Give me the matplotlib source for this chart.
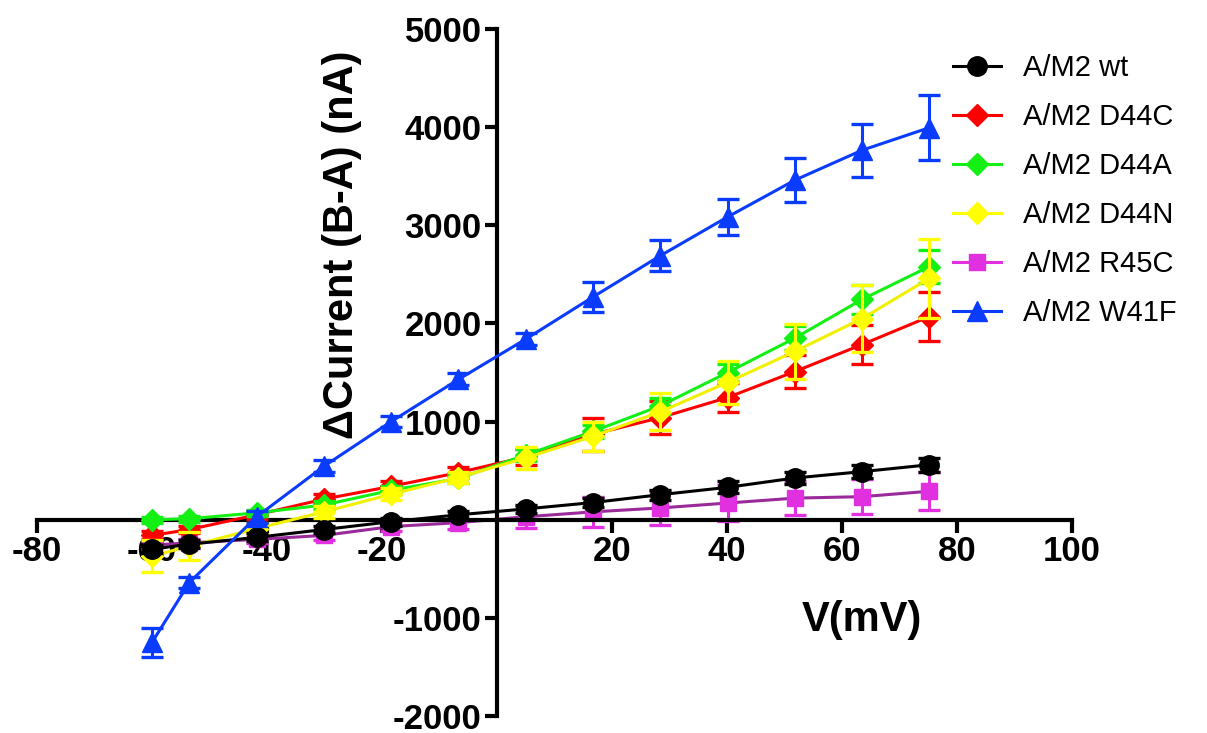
import matplotlib
matplotlib.use("Agg")
import matplotlib.pyplot as plt

plt.rcParams['font.family'] = ['Liberation Sans', 'DejaVu Sans']
plt.rcParams['axes.unicode_minus'] = False

# voltage steps (mV)
V = [-60, -53.5, -41.8, -30.1, -18.4, -6.7, 5.0, 16.7, 28.4, 40.1, 51.8, 63.5, 75.2]

wt = [-300, -250, -180, -100, -20, 50, 110, 175, 255, 330, 425, 490, 560]
wt_err = [40, 40, 40, 40, 40, 40, 40, 50, 50, 60, 60, 70, 70]
d44c = [-160, -100, 50, 210, 340, 480, 640, 870, 1040, 1245, 1510, 1785, 2070]
d44c_err = [40, 40, 40, 50, 50, 60, 80, 170, 170, 150, 170, 200, 250]
d44a = [0, 10, 70, 150, 300, 420, 660, 900, 1160, 1500, 1850, 2245, 2580]
d44a_err = [30, 30, 30, 40, 40, 50, 60, 70, 80, 90, 120, 150, 170]
d44n = [-370, -270, -90, 80, 260, 430, 630, 850, 1100, 1400, 1715, 2050, 2460]
d44n_err = [160, 140, 60, 60, 60, 60, 110, 150, 190, 220, 280, 340, 400]
r45c = [-260, -235, -200, -160, -70, -30, 30, 80, 120, 170, 220, 235, 290]
r45c_err = [40, 40, 40, 50, 50, 60, 110, 150, 170, 180, 170, 180, 195]
w41f = [-1250, -640, 30, 545, 1000, 1430, 1840, 2270, 2690, 3085, 3460, 3765, 3995]
w41f_err = [150, 60, 60, 60, 60, 60, 60, 150, 160, 185, 225, 270, 330]

labels = ["A/M2 wt", "A/M2 D44C", "A/M2 D44A", "A/M2 D44N", "A/M2 R45C", "A/M2 W41F"]

fig = plt.figure(figsize=(12.07, 7.33), dpi=100)
ax = fig.add_axes([37/1207, 1-716/733, (1072-37)/1207, (716-29)/733])

# (y, err, color, linecolor, marker, ms, zorder)
series = [
    (wt, wt_err, "#000000", "#000000", "o", 14, 6),
    (d44c, d44c_err, "#ff0000", "#ff0000", "D", 11, 3),
    (d44a, d44a_err, "#14f014", "#14f014", "D", 11, 4),
    (d44n, d44n_err, "#ffff00", "#f0f000", "D", 11, 5),
    (r45c, r45c_err, "#e030e0", "#9a2a9a", "s", 12, 2),
    (w41f, w41f_err, "#0a3cff", "#0a3cff", "^", 14, 7),
]

handles = []
for (y, e, c, lc, m, ms, z), lab in zip(series, labels):
    ax.errorbar(V, y, yerr=e, fmt="none", ecolor=c, elinewidth=2.2,
                capsize=8, capthick=2.4, zorder=z)
    ax.plot(V, y, color=lc, lw=2.2, zorder=z)
    ax.plot(V, y, ls="none", marker=m, ms=ms, mfc=c, mec=c, zorder=z)
    h, = ax.plot([], [], color=c, lw=2.2, marker=m, ms=ms, mfc=c, mec=c, label=lab)
    handles.append(h)

ax.set_xlim(-80, 100)
ax.set_ylim(-2000, 5000)
ax.spines['left'].set_position(('data', 0))
ax.spines['bottom'].set_position(('data', 0))
ax.spines['top'].set_visible(False)
ax.spines['right'].set_visible(False)
for s in ['left', 'bottom']:
    ax.spines[s].set_linewidth(3)

ax.set_xticks([-80, -60, -40, -20, 20, 40, 60, 80, 100])
ax.set_yticks([-2000, -1000, 1000, 2000, 3000, 4000, 5000])
ax.tick_params(direction='out', length=9, width=3, labelsize=25, pad=2)
for t in ax.get_xticklabels() + ax.get_yticklabels():
    t.set_fontweight('bold')

ax.text(0.797, 0.14, "V(mV)", transform=ax.transAxes, ha='center', va='center',
        fontsize=30, fontweight='bold')
ax.text(0.295, 0.686, "\u0394Current (B-A) (nA)", transform=ax.transAxes, rotation=90,
        ha='center', va='center', fontsize=30, fontweight='bold')

fig.legend(handles=handles, loc='upper left', bbox_to_anchor=(953/1207, 1-54/733),
           frameon=False, fontsize=21, handlelength=1.65, handletextpad=0.75,
           labelspacing=0.72, borderpad=0, borderaxespad=0)

fig.savefig("out.png", dpi=100)
